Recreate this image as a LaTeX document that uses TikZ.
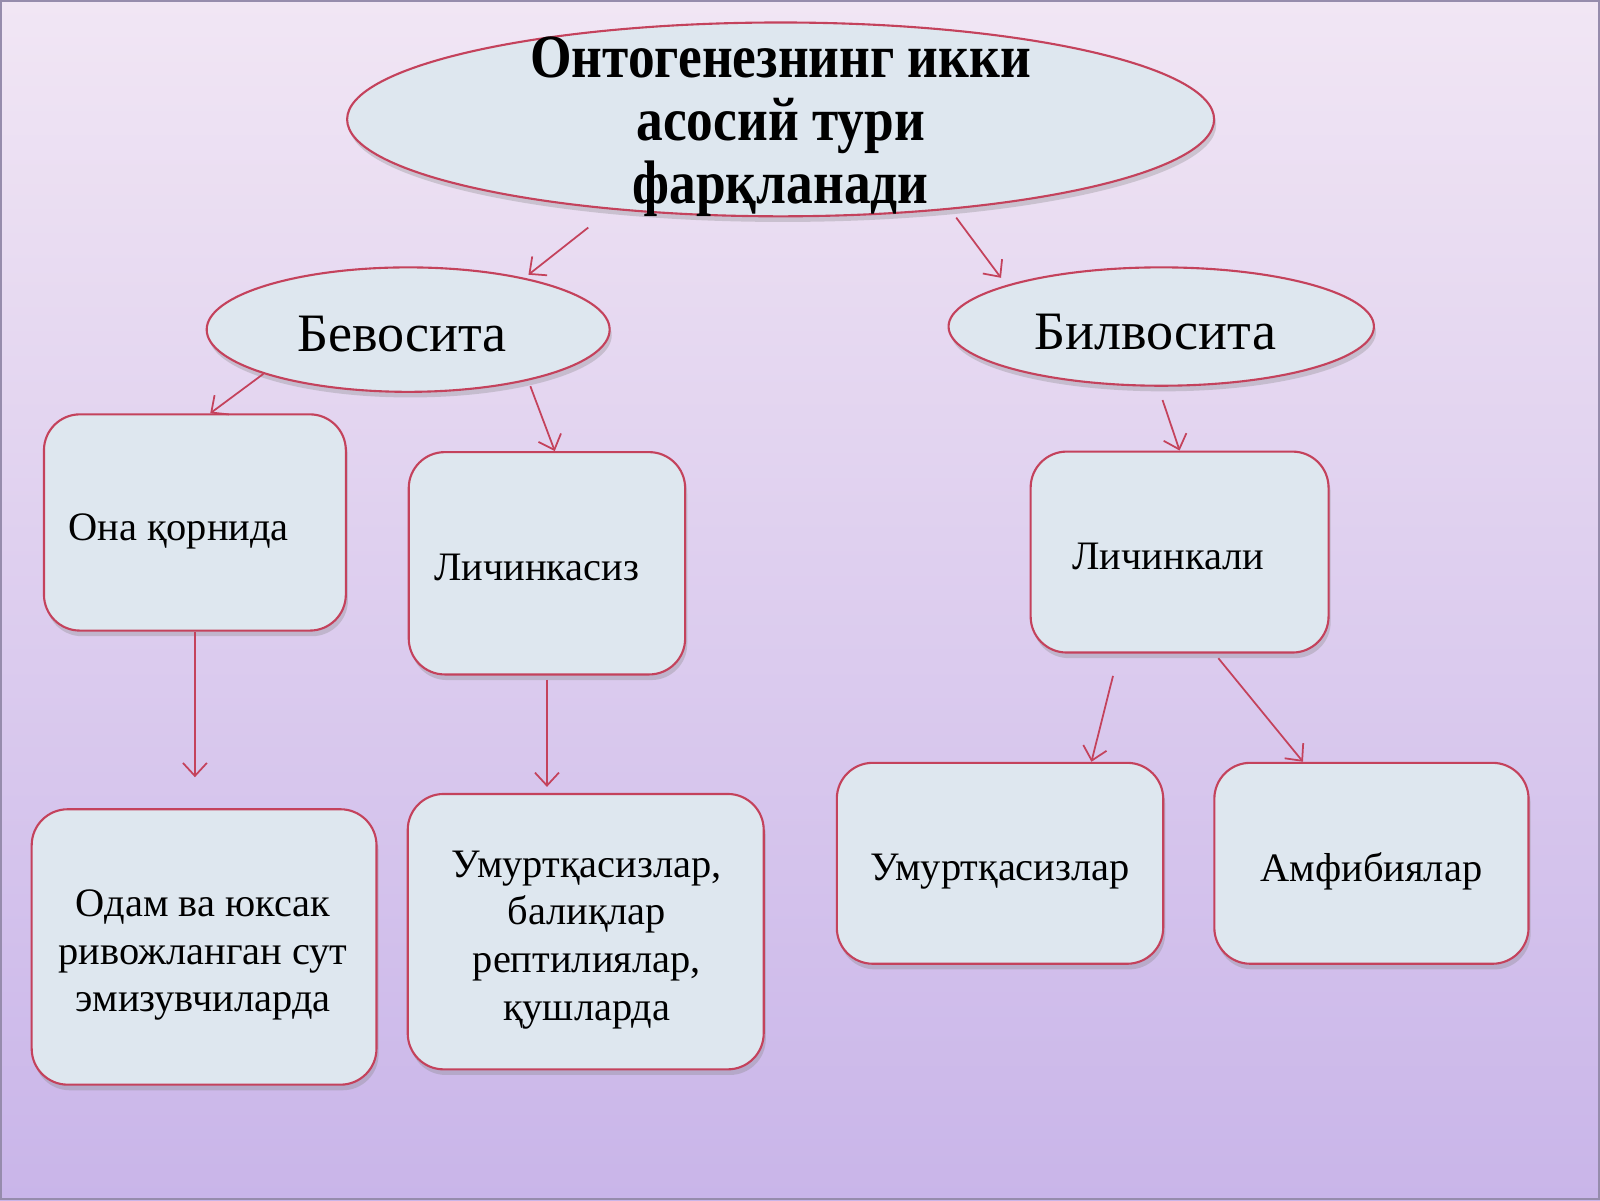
\documentclass[tikz,border=0pt]{standalone}
\usepackage{fontspec}
\setmainfont{Liberation Serif}
\usetikzlibrary{
  shapes.geometric,
  arrows.meta,
  shadows
}
\definecolor{bgtop}{RGB}{241,230,244}
\definecolor{bgbot}{RGB}{201,181,233}
\definecolor{rim}{RGB}{196,66,92}
\definecolor{inside}{RGB}{222,231,239}
\definecolor{frame}{RGB}{150,140,172}

\begin{document}
\begin{tikzpicture}[x=0.010204cm, y=-0.010204cm,
  oval/.style={ellipse, draw=rim, line width=0.6pt, fill=inside, inner sep=0pt,
    drop shadow={opacity=0.3, shadow xshift=0.6pt, shadow yshift=-1.6pt}},
  box/.style={rectangle, rounded corners=0.36cm, draw=rim, line width=0.6pt, fill=inside,
    inner sep=0pt, drop shadow={opacity=0.3, shadow xshift=0.6pt, shadow yshift=-1.6pt}},
  txt/.style={inner sep=0pt, align=center, font=\fontsize{11.5}{13.6}\selectfont},
  head/.style={inner sep=0pt, font=\fontsize{15.4}{18}\selectfont},
  arr/.style={draw=rim, line width=0.5pt, -{Straight Barb[length=1.3mm,width=2.4mm]}}]
        \useasboundingbox (0,0) rectangle (1568,1176);
        \fill[top color=bgtop, bottom color=bgbot] (0,0) rectangle (1568,1176);
        \draw[frame, line width=0.8pt] (1,1) rectangle (1567,1175);

        \node[oval, minimum width=8.673cm, minimum height=1.939cm] (top) at (765,117) {};
        \node[font=\bfseries\fontsize{15.2}{15.6}\selectfont] (topT) at (765,125)
          {\scalebox{1}[1.15]{\begin{tabular}{@{}c@{}}Онтогенезнинг икки\\асосий тури\\фарқланади\end{tabular}}};
        \node[oval, minimum width=4.031cm, minimum height=1.245cm] (bev) at (400,323) {};
        \node[head] (bevT) at (394,327) {Бевосита};
        \node[oval, minimum width=4.255cm, minimum height=1.184cm] (bil) at (1138,320) {};
        \node[head] (bilT) at (1132,325) {Билвосита};

        \node[box, minimum width=3.020cm, minimum height=2.163cm] (ona) at (191,512) {};
        \node[txt, anchor=base] (onaT) at (175,530) {Она қорнида};
        \node[box, minimum width=2.765cm, minimum height=2.224cm] (lsiz) at (536,552) {};
        \node[txt, anchor=base] (lsizT) at (526,569) {Личинкасиз};
        \node[box, minimum width=2.980cm, minimum height=2.010cm] (lli) at (1156,541) {};
        \node[txt, anchor=base] (lliT) at (1145,558) {Личинкали};

        \node[box, minimum width=3.449cm, minimum height=2.755cm] (odam) at (200,928) {};
        \node[txt] (odamT) at (199,936) {Одам ва юксак\\ривожланган сут\\эмизувчиларда};
        \node[box, minimum width=3.561cm, minimum height=2.755cm] (umr) at (574,913) {};
        \node[txt] (umrT) at (575,921) {Умуртқасизлар,\\балиқлар\\рептилиялар,\\қушларда};
        \node[box, minimum width=3.265cm, minimum height=2.010cm] (umv) at (980,846) {};
        \node[txt] (umvT) at (980,854) {Умуртқасизлар};
        \node[box, minimum width=3.143cm, minimum height=2.010cm] (amf) at (1344,846) {};
        \node[txt] (amfT) at (1344,854) {Амфибиялар};

        \draw[arr, shorten <=2.9mm, shorten >=0.5mm] (top.208) -- (bev.24);
        \draw[arr, shorten <=1mm, shorten >=0.9mm] (top.-28) -- (bil.165);
        \draw[arr] (bev.197) -- (ona.82.5);
        \draw[arr, shorten <=0.6mm] (bev.-23) -- (lsiz.86.6);
        \draw[arr, shorten >=3.1mm] (ona.south) -- (ona.south |- odam.north);
        \draw[arr, shorten <=0.4mm, shorten >=0.6mm] (lsiz.south) -- (lsiz.south |- umr.north);
        \draw[arr, shorten <=1.4mm] (bil.-93) -- (lli.north);
        \draw[arr, shorten <=2.3mm] (lli.239.5) -- (umv.48);
        \draw[arr, shorten <=0.6mm] (lli.-71.5) -- (amf.124);
\end{tikzpicture}
\end{document}
